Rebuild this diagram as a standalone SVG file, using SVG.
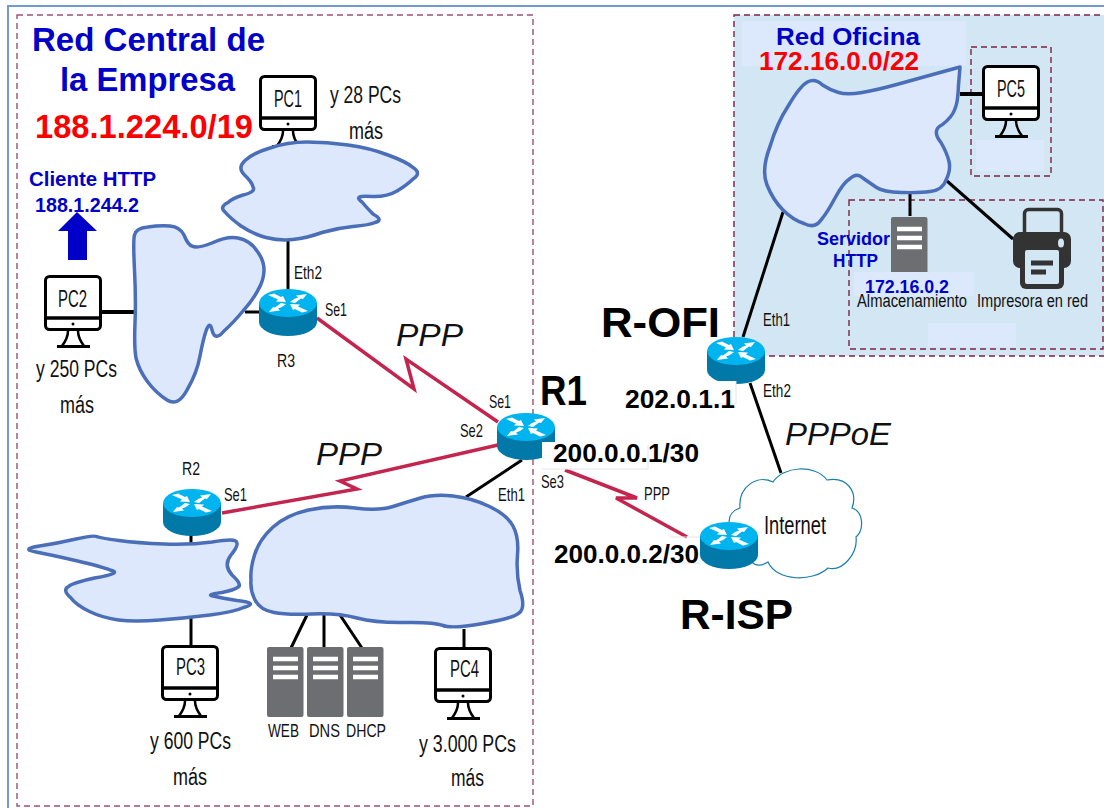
<svg xmlns="http://www.w3.org/2000/svg" width="1104" height="808" viewBox="0 0 1104 808">
<style>
text{font-family:"Liberation Sans",Arial,sans-serif;fill:#111}
.lb{font-size:23.500px}
.sm{font-size:19px}
.big{font-weight:bold;font-size:42px;fill:#000}
.ip{font-weight:bold;font-size:26px;fill:#000}
.it{font-style:italic;font-size:32px;fill:#111}
.blue{font-weight:bold;fill:#0000c8}
.red{font-weight:bold;fill:#fa0000}
.cloud{fill:#dde8fc;stroke:#4a6fb8;stroke-width:3.500;stroke-linejoin:round}
.dash{fill:none;stroke:#7b2346;stroke-width:1.400;stroke-dasharray:6 4}
.patch{fill:#dce8fb}
.wire{stroke:#000;stroke-width:3;fill:none}
.ppp{stroke:#c4254f;stroke-width:3.500;fill:none;stroke-linejoin:miter}
</style>
<defs>
<g id="router">
<path d="M0,14V33A29,14 0 0 0 58,33V14Z" fill="#0078a8"/>
<ellipse cx="29" cy="14" rx="29" ry="14" fill="#00b4f0"/>
<polygon fill="#fff" points="31,13 35,10 39,8.500 37,6.500 48,5 44,10 42,9.500 36,14"/>
<polygon fill="#fff" points="27,15 23,18 19,19.500 21,21.500 10,23 14,18 16,18.500 22,14"/>
<polygon fill="#fff" points="9,6 15,4.500 22,8 24,7 27,13 17,12.500 19,10.500"/>
<polygon fill="#fff" points="49,22 43,23.500 36,20 34,21 31,15 41,15.500 39,17.500"/>
</g>
<g id="pc">
<rect x="1.500" y="1.500" width="55" height="53" rx="4" fill="#fff" stroke="#000" stroke-width="3"/>
<path d="M1.500,43H56.500" stroke="#000" stroke-width="3.500"/>
<circle cx="29" cy="49" r="1.500" fill="#000"/>
<path d="M24,56C24,62 21,67 18,71M34,56C34,62 37,67 40,71" fill="none" stroke="#000" stroke-width="2.500"/>
<path d="M13,71.500H46" stroke="#000" stroke-width="3"/>
</g>
<g id="server">
<rect width="36.500" height="70" rx="2" fill="#6d6e71"/>
<path d="M6,12H31M6,21H31M6,30H31" stroke="#fff" stroke-width="4.400"/>
</g>
</defs>

<rect x="8" y="6" width="1120" height="830" fill="none" stroke="#6f9bd2" stroke-width="2"/>
<rect x="17" y="15" width="516" height="791" fill="none" stroke="#9c5274" stroke-width="1.400" stroke-dasharray="6 4"/>

<g id="office-zone">
<rect x="734" y="15" width="380" height="341" fill="#d2e7f3"/>
<rect x="734" y="15" width="380" height="341" class="dash"/>
<rect x="742" y="21" width="224" height="45" class="patch"/>
<rect x="976" y="140" width="68" height="31" class="patch"/>
<rect x="928" y="323" width="88" height="24" class="patch"/>
<rect x="971" y="47" width="80" height="129" class="dash"/>
<rect x="849" y="200" width="254" height="149" class="dash"/>
</g>

<g id="connectors">
<path class="wire" d="M288,240V292"/>
<path class="wire" d="M102,312H137" style="stroke-width:4"/>
<path class="wire" d="M245,312H262"/>
<path class="wire" d="M522,460L466,497"/>
<path class="wire" d="M191,530V545M191,618V646"/>
<path class="wire" d="M307,615L291,648M324,615V648M340,615L362,648M464,629V648"/>
<path class="wire" d="M960,94H982" style="stroke-width:4"/>
<path class="wire" d="M910,193V216"/>
<path class="wire" d="M947,181L1013,239"/>
<path class="wire" d="M783,212L743,337"/>
<path class="wire" d="M750,383L781,473"/>
<path class="ppp" d="M317,318L414,389L406,359L498,422"/>
<path class="ppp" d="M222,513L357,489L340,481L498,445"/>
<path class="ppp" d="M565,470L637,498L616,498L687,537"/>
</g>

<g id="internet">
<path d="M729,522C729,514 734,510 740,508C738,487 757,474 773,482C783,466 815,464 827,480C847,476 858,492 852,508C864,512 864,530 856,537C858,553 843,572 828,568C813,582 777,582 768,562C762,566 756,566 753,563L729,540Z" fill="#fff" stroke="#1a7fa8" stroke-width="1.200"/>
<text x="764" y="534" style="font-size:25px" textLength="62" lengthAdjust="spacingAndGlyphs">Internet</text>
</g>

<g id="pc1"><use href="#pc" x="259" y="75"/><text x="274" y="107" class="lb" textLength="28" lengthAdjust="spacingAndGlyphs">PC1</text></g>
<text x="330" y="103" class="lb" textLength="71" lengthAdjust="spacingAndGlyphs">y 28 PCs</text>
<text x="349" y="139" class="lb" textLength="34" lengthAdjust="spacingAndGlyphs">más</text>

<g id="cloud-a"><path class="cloud" d="M244.500,175Q237,168 245,160.500Q253,153 270,148Q287,142 307,142Q327,142 348,145Q370,148 388,155Q407,162 413,167.500Q422,173 413,179Q407,185 397,191Q387,197 372,196.500Q352,195 362,202Q367,208 373,214Q384,220 375,222.500Q370,225 353,226.500Q337,228 322,232.500Q307,238 293,239.500Q280,241 266,237.500Q253,234 241,226Q230,218 225,212Q219,207 228,202.500Q233,198 243,195Q256,192 253,187Q252,182 244.500,175Z"/></g>
<g id="cloud-b"><path class="cloud" d="M134.500,235Q136,228 148,227Q160,225 170,226Q180,227 184,235Q188,245 192,246Q197,249 212,243Q227,236 238,238Q251,241 257,251Q264,260 264,270Q264,280 258,290Q253,300 243,311Q233,323 224,331Q215,342 212,330Q210,320 206,331Q203,340 200,356Q197,373 187,390Q178,407 167,400Q156,393 147,381Q139,370 136,358Q134,347 135,323Q136,300 134.500,270Q133,240 134.500,235Z"/></g>
<g id="cloud-c"><path class="cloud" d="M36,552Q20,549 39.500,546Q59,543 76,539Q93,535 96.500,536.500Q100,538 119,540.500Q138,543 164,544Q190,545 212,542Q236,538 236.500,542Q239,545 231,555Q223,565 232,575Q243,585 237.500,587.500Q234,590 222,592.500Q203,595 215.500,596.500Q221,598 237,600.500Q260,603 243.500,607.500Q234,612 210,615Q186,618 160,620Q134,622 118.500,620Q103,618 89.500,611.500Q76,605 70.500,597.500Q62,590 68.500,586.500Q72,583 94.500,578Q124,573 110,570Q103,567 77.500,561Q52,555 36,552Z"/></g>
<g id="cloud-d"><path class="cloud" d="M251,580Q250,570 254.500,555Q259,540 272.500,527.500Q286,515 308.500,510Q331,505 355,508Q379,511 393,506.500Q407,502 420.500,498Q434,494 453,496Q472,498 489.500,506.500Q507,515 513,526Q519,537 517.500,555Q516,573 520,590.500Q526,608 519,613Q514,618 483,623.500Q452,629 443,625.500Q434,622 405,622.500Q376,623 357,618Q338,613 312,614Q286,615 274,612.500Q260,610 255,600Q250,590 251,580Z"/></g>
<g id="cloud-e"><path class="cloud" d="M960,67L940,72.500Q920,78 898.500,84Q877,90 862,92.500Q847,95 838.500,92.500Q830,90 822.500,85Q815,78 807.500,82Q800,86 788.500,105.500Q777,123 770,146.500Q761,170 767,185Q773,200 783,210Q793,220 804,223.500Q815,229 821,220Q827,213 835,198Q843,183 850,178.500Q857,172 863.500,178.500Q870,183 876.500,187.500Q883,192 901.500,192.500Q920,193 930,191.500Q943,190 946,180Q951,170 949,161.500Q947,153 941,142.500Q931,130 942.500,124.500Q952,117 954.500,110Q958,103 958.500,85Z"/></g>

<g id="title">
<text x="32" y="51" class="blue" style="font-size:32.500px" textLength="233" lengthAdjust="spacingAndGlyphs">Red Central de</text>
<text x="60" y="91" class="blue" style="font-size:32.500px" textLength="175" lengthAdjust="spacingAndGlyphs">la Empresa</text>
<text x="35" y="138" class="red" style="font-size:34px" textLength="218" lengthAdjust="spacingAndGlyphs">188.1.224.0/19</text>
</g>

<g id="client">
<text x="29" y="186" class="blue" style="font-size:21px" textLength="127" lengthAdjust="spacingAndGlyphs">Cliente HTTP</text>
<text x="35" y="212" class="blue" style="font-size:20px" textLength="104" lengthAdjust="spacingAndGlyphs">188.1.244.2</text>
<polygon points="77,212 97,231 87,231 87,260 68,260 68,231 58,231" fill="#0000c8"/>
</g>

<g id="pc2"><use href="#pc" x="44" y="275"/><text x="58" y="307" class="lb" textLength="29" lengthAdjust="spacingAndGlyphs">PC2</text>
<text x="36" y="377" class="lb" textLength="81" lengthAdjust="spacingAndGlyphs">y 250 PCs</text>
<text x="60" y="413" class="lb" textLength="34" lengthAdjust="spacingAndGlyphs">más</text></g>

<g id="r3"><use href="#router" x="259" y="289"/>
<text x="294" y="279" class="sm" textLength="28" lengthAdjust="spacingAndGlyphs">Eth2</text>
<text x="325" y="316" class="sm" textLength="22" lengthAdjust="spacingAndGlyphs">Se1</text>
<text x="277" y="367" class="sm" textLength="18" lengthAdjust="spacingAndGlyphs">R3</text></g>

<text x="396" y="346" class="it" textLength="67" lengthAdjust="spacingAndGlyphs">PPP</text>
<text x="316" y="465" class="it" textLength="66" lengthAdjust="spacingAndGlyphs">PPP</text>
<text x="785" y="445" class="it" textLength="106" lengthAdjust="spacingAndGlyphs">PPPoE</text>

<g id="r1"><use href="#router" x="497" y="413"/>
<rect x="542" y="442" width="106" height="27" fill="#fff"/>
<path d="M542,469H648V445" fill="none" stroke="#e4e4e4"/>
<text x="540" y="405" class="big" textLength="47" lengthAdjust="spacingAndGlyphs">R1</text>
<text x="553" y="462" class="ip" textLength="146" lengthAdjust="spacingAndGlyphs">200.0.0.1/30</text>
<text x="489" y="408" class="sm" textLength="22" lengthAdjust="spacingAndGlyphs">Se1</text>
<text x="460" y="437" class="sm" textLength="23" lengthAdjust="spacingAndGlyphs">Se2</text>
<text x="498" y="501" class="sm" textLength="27" lengthAdjust="spacingAndGlyphs">Eth1</text>
<text x="541" y="488" class="sm" textLength="23" lengthAdjust="spacingAndGlyphs">Se3</text>
<text x="644" y="500" class="sm" textLength="26" lengthAdjust="spacingAndGlyphs">PPP</text></g>

<g id="r2"><use href="#router" x="163" y="489"/>
<text x="182" y="475" class="sm" textLength="18" lengthAdjust="spacingAndGlyphs">R2</text>
<text x="224" y="501" class="sm" textLength="23" lengthAdjust="spacingAndGlyphs">Se1</text></g>

<g id="r-ofi"><use href="#router" x="707" y="337"/>
<rect x="627" y="381" width="109" height="23" fill="#fff"/>
<path d="M736,381V404H700" fill="none" stroke="#e4e4e4"/>
<text x="601" y="337" class="big" textLength="119" lengthAdjust="spacingAndGlyphs">R-OFI</text>
<text x="625" y="408" class="ip" textLength="110" lengthAdjust="spacingAndGlyphs">202.0.1.1</text>
<text x="763" y="326" class="sm" textLength="27" lengthAdjust="spacingAndGlyphs">Eth1</text>
<text x="763" y="397" class="sm" textLength="28" lengthAdjust="spacingAndGlyphs">Eth2</text></g>

<g id="r-isp">
<path d="M670,537H700M670,563H700" fill="none" stroke="#e4e4e4"/>
<use href="#router" x="700" y="522"/>
<text x="554" y="563" class="ip" textLength="145" lengthAdjust="spacingAndGlyphs">200.0.0.2/30</text>
<text x="680" y="629" class="big" textLength="113" lengthAdjust="spacingAndGlyphs">R-ISP</text></g>

<g id="pc3"><use href="#pc" x="161" y="645"/><text x="176" y="675" class="lb" textLength="29" lengthAdjust="spacingAndGlyphs">PC3</text>
<text x="150" y="749" class="lb" textLength="81" lengthAdjust="spacingAndGlyphs">y 600 PCs</text>
<text x="173" y="785" class="lb" textLength="34" lengthAdjust="spacingAndGlyphs">más</text></g>

<g id="pc4"><use href="#pc" x="434" y="647"/><text x="450" y="677" class="lb" textLength="29" lengthAdjust="spacingAndGlyphs">PC4</text>
<text x="419" y="752" class="lb" textLength="97" lengthAdjust="spacingAndGlyphs">y 3.000 PCs</text>
<text x="451" y="786" class="lb" textLength="33" lengthAdjust="spacingAndGlyphs">más</text></g>

<g id="web"><use href="#server" x="267" y="647"/><text x="268" y="737" class="sm" textLength="31" lengthAdjust="spacingAndGlyphs">WEB</text></g>
<g id="dns"><use href="#server" x="307" y="647"/><text x="309" y="737" class="sm" textLength="31" lengthAdjust="spacingAndGlyphs">DNS</text></g>
<g id="dhcp"><use href="#server" x="347" y="647"/><text x="346" y="737" class="sm" textLength="40" lengthAdjust="spacingAndGlyphs">DHCP</text></g>

<g id="office-title">
<text x="776" y="45" class="blue" style="font-size:24px" textLength="144" lengthAdjust="spacingAndGlyphs">Red Oficina</text>
<text x="759" y="70" class="red" style="font-size:25px" textLength="160" lengthAdjust="spacingAndGlyphs">172.16.0.0/22</text>
</g>

<g id="pc5"><use href="#pc" x="982" y="65"/><text x="997" y="97" class="lb" textLength="28" lengthAdjust="spacingAndGlyphs">PC5</text></g>

<g id="http-server"><use href="#server" x="891" y="217"/>
<rect x="854" y="272" width="120" height="24" class="patch"/>
<text x="817" y="245" class="blue" style="font-size:18px" textLength="73" lengthAdjust="spacingAndGlyphs">Servidor</text>
<text x="833" y="267" class="blue" style="font-size:18px" textLength="45" lengthAdjust="spacingAndGlyphs">HTTP</text>
<text x="865" y="293" class="blue" style="font-size:18px" textLength="84" lengthAdjust="spacingAndGlyphs">172.16.0.2</text>
<text x="857" y="307" class="sm" style="font-size:18px" textLength="110" lengthAdjust="spacingAndGlyphs">Almacenamiento</text></g>

<g id="printer">
<rect x="1024.500" y="209.500" width="37" height="30" rx="4" fill="none" stroke="#333" stroke-width="3.500"/>
<rect x="1013" y="232" width="58" height="36" rx="7" fill="#333"/>
<rect x="1020" y="253" width="44" height="36" rx="6" fill="#333"/>
<rect x="1025" y="250" width="34" height="34" rx="2" fill="#d2e7f3"/>
<path d="M1031,263H1053M1031,272H1046" stroke="#333" stroke-width="5"/>
<ellipse cx="1061" cy="243" rx="3" ry="4.500" fill="#d2e7f3"/>
<text x="977" y="307" class="sm" style="font-size:18px" textLength="111" lengthAdjust="spacingAndGlyphs">Impresora en red</text>
</g>
</svg>
